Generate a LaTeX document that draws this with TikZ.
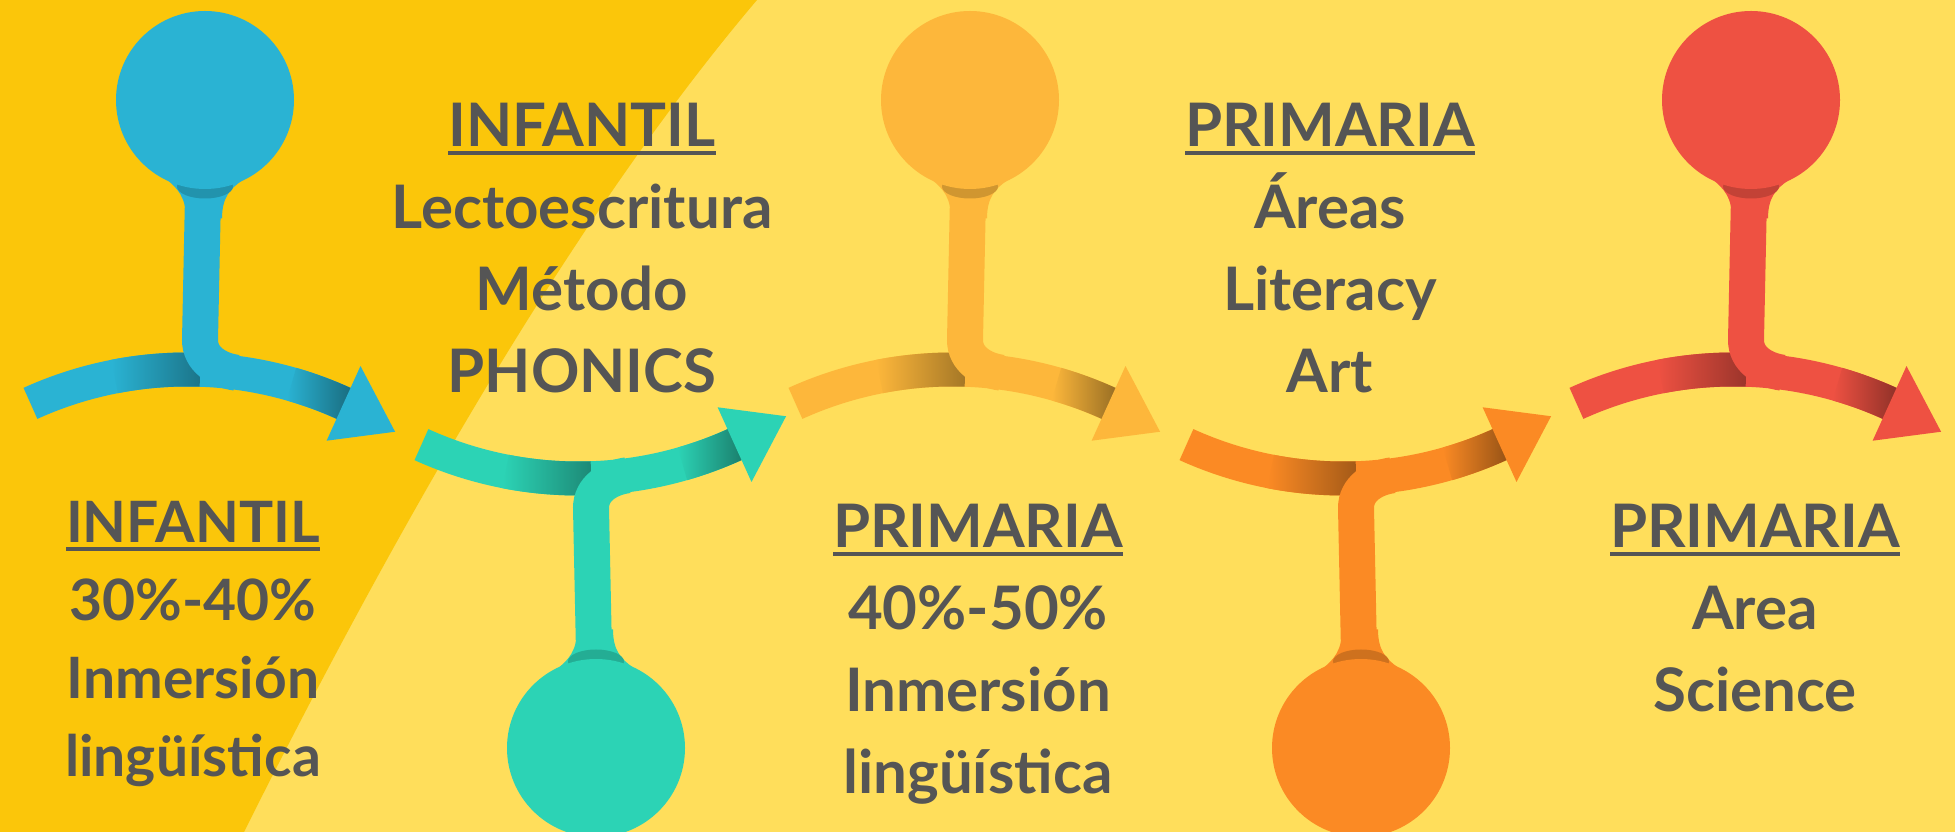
\documentclass[tikz,border=0pt]{standalone}
\usepackage{fontspec}
\setmainfont{Lato}
\pgfdeclarelayer{background}
\pgfsetlayers{background,main}
\definecolor{bgdark}{HTML}{FBC60A}
\definecolor{bglight}{HTML}{FFDE5B}
\definecolor{txtgray}{HTML}{555555}
\definecolor{spoonblue}{HTML}{2AB3D3}
\definecolor{spoonteal}{HTML}{2CD3B5}
\definecolor{spoonamber}{HTML}{FDB73B}
\definecolor{spoonorange}{HTML}{FB8A24}
\definecolor{spoonred}{HTML}{EE5142}
\tikzstyle{spoonband}=[line width=34pt]
\tikzstyle{spoonstem}=[line width=36pt]
\tikzstyle{spoonbulb}=[circle, inner sep=0pt, minimum size=178pt]
\tikzstyle{stagetext}=[anchor=base, align=center, text=txtgray,
  font=\fontsize{60}{82}\selectfont\bfseries]
\newcommand{\stagehead}[1]{\setbox0=\hbox{#1}\rlap{\rule[-7.8pt]{\wd0}{3.3pt}}\box0}
\newcommand{\spoon}[3]{%
  \begin{scope}[#3]
    \node (bulb#1) [spoonbulb, fill=#2] at (18,648.5) {};
    \coordinate (join#1) at (82.5:379);
    \begin{pgfonlayer}{background}
      % Curved band with its shadows
      \draw[spoonband, #2] (114.4:379) arc[start angle=114.4, end angle=65.4, radius=379];
      \shade[left color=#2, right color=#2!65!black]
        (101:362) arc[start angle=101, end angle=88, radius=362]
        -- (88:396) arc[start angle=88, end angle=101, radius=396] -- cycle;
      \shade[left color=#2, right color=#2!60!black]
        (74:362) arc[start angle=74, end angle=65.4, radius=362]
        -- (65.4:396) arc[start angle=65.4, end angle=74, radius=396] -- cycle;
      % Arrow head
      \fill[#2] (65.6:338) -- (65.6:420) -- (56.7:379) -- cycle;
      % Stem from the bulb down to the band
      \draw[spoonstem, #2] (bulb#1.center) -- (13,408.5) to[out=-90, in=172] (join#1);
      \fill[#2] (-1,530) .. controls (-1,552) and (-10,560) .. (-19,568)
        -- (55,568) .. controls (44,560) and (35,552) .. (35,530) -- cycle;
      \fill[#2!82!black] (18,562) ellipse[x radius=28, y radius=12];
    \end{pgfonlayer}
  \end{scope}}

\begin{document}
\begin{tikzpicture}[x=1pt, y=1pt]
\useasboundingbox (0,0) rectangle (1955,832);
% Draw the two background tones
\begin{pgfonlayer}{background}
  \fill[bglight] (0,0) rectangle (1955,832);
  \fill[bgdark] (0,0) -- (0,832) -- (757,832) .. controls (600,647) and (429,370) .. (244,0) -- cycle;
\end{pgfonlayer}

% Draw the spoons
\spoon{1}{spoonblue}{shift={(187,83.5)}}
\spoon{2}{spoonteal}{shift={(578,732.5)}, yscale=-1}
\spoon{3}{spoonamber}{shift={(952,83.5)}}
\spoon{4}{spoonorange}{shift={(1343,732.5)}, yscale=-1}
\spoon{5}{spoonred}{shift={(1733,83.5)}}

% Draw the texts (placed by their last line)
\node (infantilA) [stagetext] at (582,439) {\stagehead{INFANTIL}\\Lectoescritura\\Método\\PHONICS};
\node (primariaA) [stagetext] at (1330,439) {\stagehead{PRIMARIA}\\Áreas\\Literacy\\Art};
\node (infantilB) [stagetext, font=\fontsize{57}{78}\selectfont\bfseries] at (193,55)
  {\stagehead{INFANTIL}\\30\%-40\%\\Inmersión\\lingüística};
\node (primariaB) [stagetext] at (978,38) {\stagehead{PRIMARIA}\\40\%-50\%\\Inmersión\\lingüística};
\node (primariaC) [stagetext] at (1755,120) {\stagehead{PRIMARIA}\\Area\\Science};
\end{tikzpicture}
\end{document}
